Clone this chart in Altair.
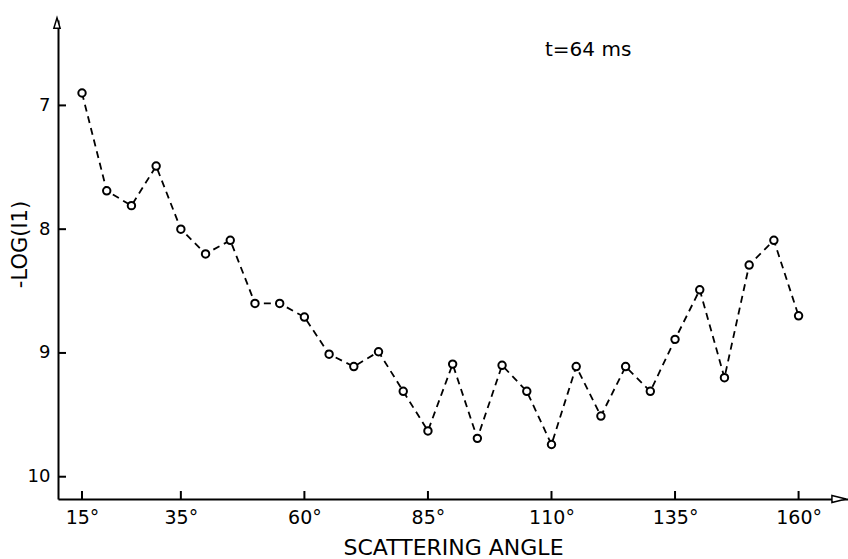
import altair as alt
import pandas as pd

angles = [15, 20, 25, 30, 35, 40, 45, 50, 55, 60, 65, 70, 75, 80, 85, 90, 95, 100,
          105, 110, 115, 120, 125, 130, 135, 140, 145, 150, 155, 160]
neg_log_i = [6.90, 7.69, 7.81, 7.49, 8.00, 8.20, 8.09, 8.60, 8.60, 8.71, 9.01, 9.11,
             8.99, 9.31, 9.63, 9.09, 9.69, 9.10, 9.31, 9.74, 9.11, 9.51, 9.11, 9.31,
             8.89, 8.49, 9.20, 8.29, 8.09, 8.70]
x_ticks = [15, 35, 60, 85, 110, 135, 160]
y_ticks = [7, 8, 9, 10]
annotation = "t=64 ms"

W, H = 790, 479
FONT = "DejaVu Sans"

df = pd.DataFrame({"angle": angles, "val": neg_log_i})
xt = pd.DataFrame({"angle": x_ticks})
yt = pd.DataFrame({"val": y_ticks})

xscale = alt.Scale(domain=[10.14, 170], nice=False, zero=False)
yscale = alt.Scale(domain=[6.31, 10.18], nice=False, zero=False, reverse=True)

xaxis = alt.Axis(values=x_ticks, labelExpr="datum.value + '°'", ticks=False, grid=False,
                 domainColor="black", domainWidth=2, labelFont=FONT, labelFontSize=19,
                 labelColor="black", labelPadding=9, title="SCATTERING ANGLE",
                 titleFont=FONT, titleFontSize=22, titleFontWeight="normal",
                 titleColor="black", titleBaseline="alphabetic", titleY=55)
yaxis = alt.Axis(values=y_ticks, format="d", ticks=False, grid=False, domainColor="black",
                 domainWidth=2, labelFont=FONT, labelFontSize=18, labelColor="black",
                 labelPadding=8, title="-LOG(I1)", titleFont=FONT, titleFontSize=21,
                 titleFontWeight="normal", titleColor="black", titleAngle=270,
                 titleX=-38, titleY=224, titleAlign="center", titleBaseline="middle")

line = alt.Chart(df).mark_line(color="black", strokeWidth=1.8, strokeDash=[7, 5]).encode(
    x=alt.X("angle:Q", scale=xscale, axis=xaxis),
    y=alt.Y("val:Q", scale=yscale, axis=yaxis),
)
pts = alt.Chart(df).mark_point(shape="circle", size=55, filled=True, fill="white",
                                stroke="black", strokeWidth=2, opacity=1).encode(
    x=alt.X("angle:Q", scale=xscale),
    y=alt.Y("val:Q", scale=yscale),
)
xtick_marks = alt.Chart(xt).mark_rule(color="black", strokeWidth=2).encode(
    x=alt.X("angle:Q", scale=xscale), y=alt.value(H), y2=alt.value(H - 8))
ytick_marks = alt.Chart(yt).mark_rule(color="black", strokeWidth=2).encode(
    y=alt.Y("val:Q", scale=yscale), x=alt.value(0), x2=alt.value(8))

one = pd.DataFrame({"a": [0]})
up_arrow = alt.Chart(one).mark_point(
    shape="M-0.6,1 L0,-1 L0.6,1 Z", size=110, filled=True, fill="white",
    stroke="black", strokeWidth=1.5, opacity=1).encode(x=alt.value(-1), y=alt.value(3))
right_arrow = alt.Chart(one).mark_point(
    shape="M-1,-0.5 L1,0 L-1,0.5 Z", size=200, filled=True, fill="white",
    stroke="black", strokeWidth=1.5, opacity=1).encode(x=alt.value(W - 9), y=alt.value(H))
label = alt.Chart(one).mark_text(text=annotation, font=FONT, fontSize=20, align="left",
                                 baseline="alphabetic", color="black").encode(
    x=alt.value(487), y=alt.value(36))

chart = alt.layer(line, pts, xtick_marks, ytick_marks, up_arrow, right_arrow, label).properties(
    width=W, height=H,
    autosize=alt.AutoSizeParams(type="none"),
    padding={"left": 58, "top": 20, "right": 0, "bottom": 60},
    background="white",
).configure_view(stroke=None)

chart.save("out.html", embed_options={"renderer": "svg", "actions": False})
